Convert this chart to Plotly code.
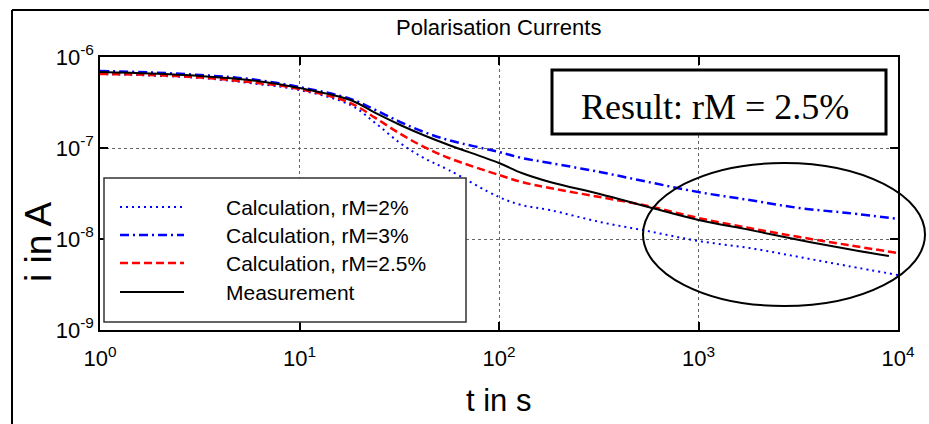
import plotly.graph_objects as go

# Time axis (s) and measured / calculated polarisation currents (A)
t_s = [1, 1.8, 3.2, 5.6, 10, 18, 24, 32, 42, 56, 100, 130, 180, 320, 560,
       1000, 1800, 3200, 5600, 10000]
t_meas = [1, 1.8, 3.2, 5.6, 10, 18, 24, 32, 42, 56, 100, 130, 180, 320, 560,
          1000, 1800, 3200, 5600, 9000]

i_rm2 = [6.50e-7, 6.26e-7, 5.88e-7, 5.18e-7, 4.34e-7, 2.97e-7, 1.88e-7, 1.13e-7,
         7.77e-8, 5.73e-8, 2.89e-8, 2.36e-8, 2.08e-8, 1.54e-8, 1.22e-8,
         9.51e-9, 7.96e-9, 6.34e-9, 5.05e-9, 4.02e-9]
i_rm3 = [7.02e-7, 6.76e-7, 6.34e-7, 5.73e-7, 4.68e-7, 3.46e-7, 2.62e-7, 1.93e-7,
         1.50e-7, 1.22e-7, 9.04e-8, 7.77e-8, 6.84e-8, 5.45e-8, 4.23e-8,
         3.28e-8, 2.68e-8, 2.19e-8, 1.93e-8, 1.66e-8]
i_rm25 = [6.50e-7, 6.34e-7, 5.95e-7, 5.31e-7, 4.45e-7, 3.12e-7, 2.14e-7, 1.43e-7,
          1.03e-7, 7.77e-8, 5.05e-8, 4.23e-8, 3.63e-8, 2.89e-8, 2.30e-8,
          1.70e-8, 1.32e-8, 1.05e-8, 8.59e-9, 7.02e-9]
i_meas = [6.84e-7, 6.59e-7, 6.18e-7, 5.59e-7, 4.56e-7, 3.37e-7, 2.43e-7, 1.79e-7,
          1.38e-7, 1.08e-7, 6.84e-8, 5.31e-8, 4.23e-8, 3.12e-8, 2.25e-8,
          1.62e-8, 1.26e-8, 9.75e-9, 7.76e-9, 6.50e-9]

x_tickvals = [1, 10, 100, 1000, 10000]
x_ticktext = ["10<sup>0</sup>", "10<sup>1</sup>", "10<sup>2</sup>", "10<sup>3</sup>", "10<sup>4</sup>"]
y_tickvals = [1e-9, 1e-8, 1e-7, 1e-6]
y_ticktext = ["10<sup>-9</sup>", "10<sup>-8</sup>", "10<sup>-7</sup>", "10<sup>-6</sup>"]

legend_labels = ["Calculation, rM=2%", "Calculation, rM=3%", "Calculation, rM=2.5%", "Measurement"]
result_text = "Result: rM = 2.5%"

SANS = "Liberation Sans, Arial, sans-serif"
SERIF = "Liberation Serif, Times New Roman, serif"

W, H = 929, 424
L, R, T, B = 100, 898, 57, 330  # plot area in px


def px(x):
    return (x - L) / (R - L)


def py(y):
    return (B - y) / (B - T)


styles = [
    dict(color="#0000ff", width=2, dash="2px,4px"),
    dict(color="#0000ff", width=2.5, dash="9px,4px,2px,4px"),
    dict(color="#ff0000", width=2.5, dash="8px,4px"),
    dict(color="#000000", width=2, dash="solid"),
]

fig = go.Figure()
series = [(t_s, i_rm2), (t_s, i_rm3), (t_s, i_rm25), (t_meas, i_meas)]
for (tx, iy), st, name in zip(series, styles, legend_labels):
    fig.add_trace(go.Scatter(x=tx, y=iy, mode="lines", name=name,
                             line=dict(shape="spline", smoothing=1.0, **st),
                             showlegend=False))

axis_common = dict(
    type="log", showline=True, linecolor="black", linewidth=1.5, mirror="ticks",
    ticks="inside", ticklen=8, tickwidth=1.5, tickcolor="black",
    showgrid=True, gridcolor="#666666", griddash="dot", gridwidth=1,
    tickfont=dict(family=SANS, size=22, color="black"),
)
fig.update_xaxes(range=[0, 4], tickvals=x_tickvals, ticktext=x_ticktext,
                 ticklabelstandoff=8, **axis_common)
fig.update_yaxes(range=[-9, -6], tickvals=y_tickvals, ticktext=y_ticktext, **axis_common)

shapes = []
# outer frame (top and left edges)
shapes.append(dict(type="line", xref="paper", yref="paper", x0=px(12), x1=px(929),
                   y0=py(10), y1=py(10), line=dict(color="black", width=2)))
shapes.append(dict(type="line", xref="paper", yref="paper", x0=px(12), x1=px(12),
                   y0=py(10), y1=py(424), line=dict(color="black", width=2)))
# result box
shapes.append(dict(type="rect", xref="paper", yref="paper", x0=px(552), x1=px(886),
                   y0=py(134), y1=py(70), fillcolor="white",
                   line=dict(color="black", width=3), layer="above"))
# ellipse around the long-time region
shapes.append(dict(type="circle", xref="paper", yref="paper", x0=px(643), x1=px(925),
                   y0=py(306), y1=py(163), line=dict(color="black", width=2), layer="above"))
# legend box
shapes.append(dict(type="rect", xref="paper", yref="paper", x0=px(104), x1=px(466),
                   y0=py(322), y1=py(178), fillcolor="white",
                   line=dict(color="#333333", width=1.5), layer="above"))

annotations = []
legend_y = [207, 235, 263, 292]
for yy, st, lab in zip(legend_y, styles, legend_labels):
    shapes.append(dict(type="line", xref="paper", yref="paper", x0=px(120), x1=px(184),
                       y0=py(yy), y1=py(yy), line=dict(color=st["color"], width=st["width"],
                                                        dash=st["dash"]), layer="above"))
    annotations.append(dict(xref="paper", yref="paper", x=px(224), y=py(yy), text=lab,
                            showarrow=False, xanchor="left", yanchor="middle",
                            font=dict(family=SANS, size=21, color="black")))

annotations.append(dict(xref="paper", yref="paper", x=px(715), y=py(107), text=result_text,
                        showarrow=False, xanchor="center", yanchor="middle",
                        font=dict(family=SERIF, size=36, color="black")))
annotations.append(dict(xref="paper", yref="paper", x=px(498), y=py(28),
                        text="Polarisation Currents", showarrow=False,
                        xanchor="center", yanchor="middle",
                        font=dict(family=SANS, size=22, color="black")))
annotations.append(dict(xref="paper", yref="paper", x=px(498), y=py(400), text="t in s",
                        showarrow=False, xanchor="center", yanchor="middle",
                        font=dict(family=SANS, size=31, color="black")))
annotations.append(dict(xref="paper", yref="paper", x=px(38), y=py(242), text="i in A",
                        showarrow=False, xanchor="center", yanchor="middle", textangle=-90,
                        font=dict(family=SANS, size=37, color="black")))

fig.update_layout(
    width=W, height=H,
    margin=dict(l=L, r=W - R, t=T, b=H - B),
    paper_bgcolor="white", plot_bgcolor="white",
    shapes=shapes, annotations=annotations,
)

fig.write_html("out.html")
